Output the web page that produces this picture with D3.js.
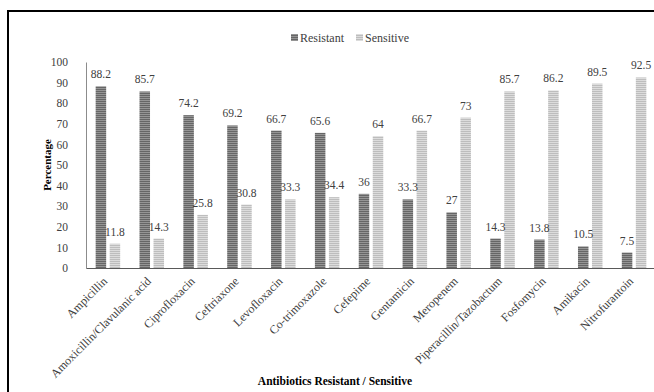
<!DOCTYPE html>
<html>
<head>
<meta charset="utf-8">
<script src="https://cdn.jsdelivr.net/npm/d3@7"></script>
<style>
  body { margin: 0; background: #fff; }
  svg { display: block; font-family: "Liberation Serif", "DejaVu Serif", serif; }
  svg text { font-family: "Liberation Serif", "DejaVu Serif", serif; }
</style>
</head>
<body>
<div id="chart"></div>
<script>
// data
const antibiotics = ["Ampicillin", "Amoxicillin/Clavulanic acid", "Ciprofloxacin", "Ceftriaxone",
  "Levofloxacin", "Co-trimoxazole", "Cefepime", "Gentamicin", "Meropenem",
  "Piperacillin/Tazobactum", "Fosfomycin", "Amikacin", "Nitrofurantoin"];
const resistant = [88.2, 85.7, 74.2, 69.2, 66.7, 65.6, 36, 33.3, 27, 14.3, 13.8, 10.5, 7.5];
const sensitive = [11.8, 14.3, 25.8, 30.8, 33.3, 34.4, 64, 66.7, 73, 85.7, 86.2, 89.5, 92.5];
const seriesNames = ["Resistant", "Sensitive"];
const yTicks = [0, 10, 20, 30, 40, 50, 60, 70, 80, 90, 100];

const W = 654, H = 392;
const margin = { top: 62, right: -2, bottom: 124, left: 86 };
const width = W - margin.left - margin.right;
const height = H - margin.top - margin.bottom;

const svg = d3.select("#chart").append("svg")
  .attr("width", W).attr("height", H);

// stripey fills like the original
const defs = svg.append("defs");
const fills = [
  { id: "stripeR", base: "#666666", line: "#959595" },
  { id: "stripeS", base: "#bdbdbd", line: "#dcdcdc" }
];
fills.forEach(f => {
  const p = defs.append("pattern").attr("id", f.id)
    .attr("patternUnits", "userSpaceOnUse").attr("width", 4).attr("height", 2);
  p.append("rect").attr("width", 4).attr("height", 2).attr("fill", f.base);
  p.append("rect").attr("width", 4).attr("height", 1).attr("fill", f.line);
});

// outer frame
svg.append("rect")
  .attr("x", 8).attr("y", 11).attr("width", 660).attr("height", 400)
  .attr("fill", "none").attr("stroke", "#000").attr("stroke-width", 2);

const g = svg.append("g").attr("transform", "translate(" + margin.left + "," + margin.top + ")");

const x = d3.scaleBand().domain(antibiotics).range([0, width]).padding(0);
const xSub = d3.scaleBand().domain(seriesNames).range([0, x.bandwidth()])
  .paddingInner(0.25).paddingOuter(0.69);
const y = d3.scaleLinear().domain([0, 100]).range([height, 0]);

// y axis
const yAxis = g.append("g").call(d3.axisLeft(y).tickValues(yTicks).tickSize(0).tickPadding(18));
yAxis.attr("font-family", null);
yAxis.select(".domain").attr("stroke", "#8c8c8c");
yAxis.selectAll("text").attr("font-size", 11.5).attr("fill", "#404040");

// bars
const rows = antibiotics.map((name, i) => ({ name: name, values: [resistant[i], sensitive[i]] }));
const grp = g.selectAll(".grp").data(rows).enter().append("g")
  .attr("class", "grp")
  .attr("transform", d => "translate(" + x(d.name) + ",0)");

grp.selectAll("rect").data(d => d.values.map((v, k) => ({ key: seriesNames[k], v: v, k: k })))
  .enter().append("rect")
  .attr("x", d => xSub(d.key))
  .attr("y", d => y(d.v))
  .attr("width", xSub.bandwidth())
  .attr("height", d => height - y(d.v))
  .attr("fill", d => "url(#" + fills[d.k].id + ")");

grp.selectAll("text").data(d => d.values.map((v, k) => ({ key: seriesNames[k], v: v })))
  .enter().append("text")
  .attr("x", d => xSub(d.key) + xSub.bandwidth() / 2)
  .attr("y", d => y(d.v) - 8)
  .attr("text-anchor", "middle")
  .attr("font-size", 11.5).attr("fill", "#404040")
  .text(d => d.v);

// x axis
const xAxis = g.append("g").attr("transform", "translate(0," + height + ")")
  .call(d3.axisBottom(x).tickSize(0).tickPadding(0));
xAxis.attr("font-family", null);
xAxis.select(".domain").attr("stroke", "#595959");
xAxis.selectAll("text")
  .attr("font-size", 12).attr("fill", "#404040")
  .attr("text-anchor", "end")
  .attr("dy", 0)
  .attr("transform", "translate(0,14) rotate(-45)");

// axis titles
svg.append("text")
  .attr("transform", "translate(51," + (margin.top + height / 2) + ") rotate(-90)")
  .attr("text-anchor", "middle").attr("font-weight", "bold").attr("font-size", 11)
  .text("Percentage");

svg.append("text")
  .attr("x", 335).attr("y", 385)
  .attr("text-anchor", "middle").attr("font-weight", "bold").attr("font-size", 11.5)
  .text("Antibiotics Resistant / Sensitive");

// legend
const legend = svg.append("g").attr("transform", "translate(291,34)");
let lx = 0;
seriesNames.forEach((s, k) => {
  const item = legend.append("g").attr("transform", "translate(" + lx + ",0)");
  item.append("rect").attr("width", 7).attr("height", 7).attr("fill", "url(#" + fills[k].id + ")");
  const t = item.append("text").attr("x", 9).attr("y", 7.5)
    .attr("font-size", 12).attr("fill", "#404040").text(s);
  lx += 9 + t.node().getComputedTextLength() + 12;
});
</script>
</body>
</html>
